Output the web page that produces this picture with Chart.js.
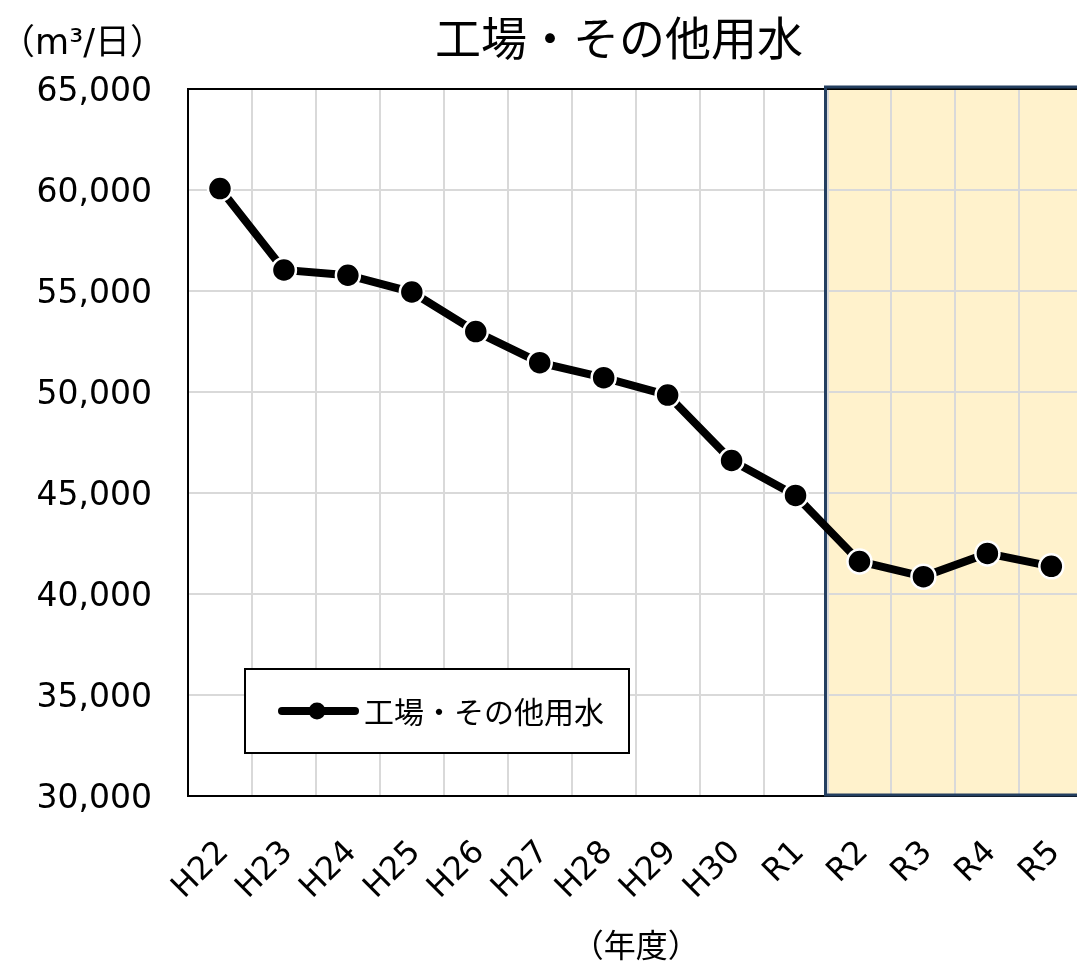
<!DOCTYPE html>
<html>
<head>
<meta charset="utf-8">
<script src="https://cdn.jsdelivr.net/npm/chart.js@4/dist/chart.umd.min.js"></script>
<style>
  html, body { margin: 0; padding: 0; background: #fff; overflow: hidden; }
  canvas { display: block; }
</style>
</head>
<body>
<canvas id="c" width="1117" height="964"></canvas>
<script>
const categories = ['H22','H23','H24','H25','H26','H27','H28','H29','H30','R1','R2','R3','R4','R5'];
const seriesName = '工場・その他用水';
const seriesValues = [60070, 56040, 55780, 54950, 52990, 51450, 50710, 49850, 46610, 44880, 41610, 40860, 42010, 41370];
const yMin = 30000, yMax = 65000, yStep = 5000;
const chartTitle = '工場・その他用水';
const yUnitLabel = '（m³/日）';
const xAxisTitle = '（年度）';
const shadeFromCategory = 'R2';

const JP = "'Noto Sans CJK JP', 'DejaVu Sans', sans-serif";
const NUM = "'DejaVu Sans', 'Noto Sans CJK JP', sans-serif";

function shadeX(x) {
  const i = categories.indexOf(shadeFromCategory);
  return (x.getPixelForValue(i - 1) + x.getPixelForValue(i)) / 2 - 2;
}

const decor = {
  id: 'decor',
  beforeDraw(chart) {
    const {ctx, chartArea: a, scales: {x}} = chart;
    const sx = shadeX(x);
    ctx.save();
    ctx.fillStyle = '#FFF2CC';
    ctx.fillRect(sx, a.top, chart.width - sx + 10, a.bottom - a.top);
    ctx.restore();
  },
  beforeDatasetsDraw(chart) {
    const {ctx, chartArea: a, scales: {x}} = chart;
    const sx = shadeX(x);
    ctx.save();
    ctx.strokeStyle = '#000';
    ctx.lineWidth = 2;
    ctx.beginPath();
    ctx.moveTo(a.left - 1, a.top);
    ctx.lineTo(chart.width + 5, a.top);
    ctx.stroke();
    ctx.strokeStyle = '#243F60';
    ctx.lineWidth = 3;
    ctx.strokeRect(sx, a.top - 2, chart.width - sx + 20, a.bottom - a.top + 1);
    ctx.restore();
  },
  afterDraw(chart) {
    const {ctx, chartArea: a} = chart;
    ctx.save();
    ctx.fillStyle = '#000';
    ctx.font = '46px ' + JP;
    ctx.textAlign = 'center';
    ctx.textBaseline = 'middle';
    ctx.fillText(chartTitle, 619, 38);
    ctx.font = '35px ' + NUM;
    ctx.textAlign = 'right';
    ctx.fillText(yUnitLabel, 165, 45);
    const lx = a.left + 57, ly = 669, lw = 384, lh = 84;
    ctx.fillStyle = '#fff';
    ctx.fillRect(lx, ly, lw, lh);
    ctx.strokeStyle = '#000';
    ctx.lineWidth = 2;
    ctx.strokeRect(lx, ly, lw, lh);
    const cy = ly + lh / 2;
    ctx.lineWidth = 8;
    ctx.lineCap = 'round';
    ctx.beginPath();
    ctx.moveTo(lx + 37, cy);
    ctx.lineTo(lx + 110, cy);
    ctx.stroke();
    ctx.fillStyle = '#000';
    ctx.beginPath();
    ctx.arc(lx + 72, cy, 8.5, 0, Math.PI * 2);
    ctx.fill();
    ctx.font = '30px ' + JP;
    ctx.textAlign = 'left';
    ctx.textBaseline = 'middle';
    ctx.fillText(chart.data.datasets[0].label, lx + 119, cy + 1);
    ctx.restore();
  }
};

new Chart(document.getElementById('c'), {
  type: 'line',
  data: {
    labels: categories,
    datasets: [{
      label: seriesName,
      data: seriesValues,
      borderColor: '#000',
      backgroundColor: '#000',
      borderWidth: 8,
      pointRadius: 12,
      pointHoverRadius: 12,
      pointBackgroundColor: '#000',
      pointBorderColor: '#fff',
      pointBorderWidth: 2.5,
      tension: 0,
      fill: false
    }]
  },
  options: {
    responsive: false,
    animation: false,
    events: [],
    layout: { padding: { top: 89, left: 0, right: 0, bottom: 0 } },
    plugins: {
      legend: { display: false },
      title: { display: false },
      tooltip: { enabled: false }
    },
    scales: {
      x: {
        offset: true,
        grid: { color: '#D9D9D9', lineWidth: 2, drawTicks: false, offset: true },
        border: { color: '#000', width: 2 },
        ticks: {
          color: '#000',
          font: { family: NUM, size: 32 },
          minRotation: 45,
          maxRotation: 45,
          padding: 38,
          labelOffset: 4,
          autoSkip: false
        },
        title: {
          display: true,
          text: xAxisTitle,
          color: '#000',
          font: { family: JP, size: 32, lineHeight: 1.2 },
          padding: { top: 0, bottom: 0 }
        },
        afterFit(scale) { scale.height = 168; }
      },
      y: {
        min: yMin,
        max: yMax,
        grid: { color: '#D9D9D9', lineWidth: 2, drawTicks: false },
        border: { color: '#000', width: 2 },
        ticks: {
          stepSize: yStep,
          color: '#000',
          font: { family: NUM, size: 33 },
          padding: 36,
          labelOffset: 3,
          callback: v => v.toLocaleString('en-US')
        },
        afterFit(scale) { scale.width = 188; }
      }
    }
  },
  plugins: [decor]
});
</script>
</body>
</html>
